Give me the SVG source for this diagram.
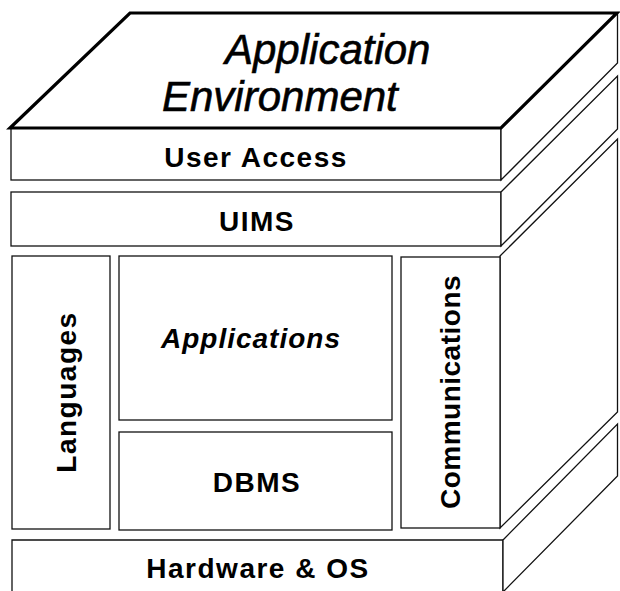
<svg xmlns="http://www.w3.org/2000/svg" width="620" height="591" viewBox="0 0 620 591">
<style>
.f{fill:#fff;stroke:#111;stroke-width:1.3;stroke-linejoin:miter}
.top{fill:#fff;stroke:#000;stroke-width:3.2;stroke-linejoin:miter}
.t{font-family:"Liberation Sans",Arial,sans-serif;font-weight:bold;font-size:28px;letter-spacing:1.5px;fill:#000;text-anchor:middle}
.big{font-family:"Liberation Sans",Arial,sans-serif;font-style:italic;font-size:42px;fill:#000;stroke:#000;stroke-width:0.6}
</style>
<rect width="620" height="591" fill="#fff"/>
<g id="hardware">
<path class="f" d="M12,594 L12,540 L503,540 L503,594"/>
<path class="f" d="M503,540 L617.5,424 L617.5,476 L503,592 Z"/>
<text class="t" x="258" y="578">Hardware &amp; OS</text>
</g>
<g id="middle-side">
<path class="f" d="M500,256 L617.5,139 L617.5,412 L500,528 Z"/>
</g>
<g id="languages">
<rect class="f" x="12" y="256" width="98" height="273"/>
<text class="t" x="76" y="392" transform="rotate(-90 76 392)">Languages</text>
</g>
<g id="applications">
<rect class="f" x="119" y="256" width="273" height="164"/>
<text class="t" x="251" y="348" font-style="italic" style="letter-spacing:1px">Applications</text>
</g>
<g id="dbms">
<rect class="f" x="119" y="432" width="273" height="98"/>
<text class="t" x="257" y="492">DBMS</text>
</g>
<g id="communications">
<rect class="f" x="401" y="257" width="99" height="271"/>
<text class="t" x="460" y="392" transform="rotate(-90 460 392)" style="letter-spacing:0.5px">Communications</text>
</g>
<g id="uims">
<rect class="f" x="11" y="192" width="490" height="54"/>
<path class="f" d="M501,192 L617.5,76 L617.5,129 L501,246 Z"/>
<text class="t" x="257" y="231">UIMS</text>
</g>
<g id="user-access">
<rect class="f" x="11" y="128" width="490" height="52"/>
<path class="f" d="M501,128 L617.5,13 L617.5,63 L501,180 Z"/>
<text class="t" x="256" y="167">User Access</text>
</g>
<g id="application-environment">
<path class="top" d="M130,13 L617,13 L501,128 L10,128 Z"/>
<text class="big" x="225" y="64">Application</text>
<text class="big" x="162" y="111">Environment</text>
</g>
</svg>
